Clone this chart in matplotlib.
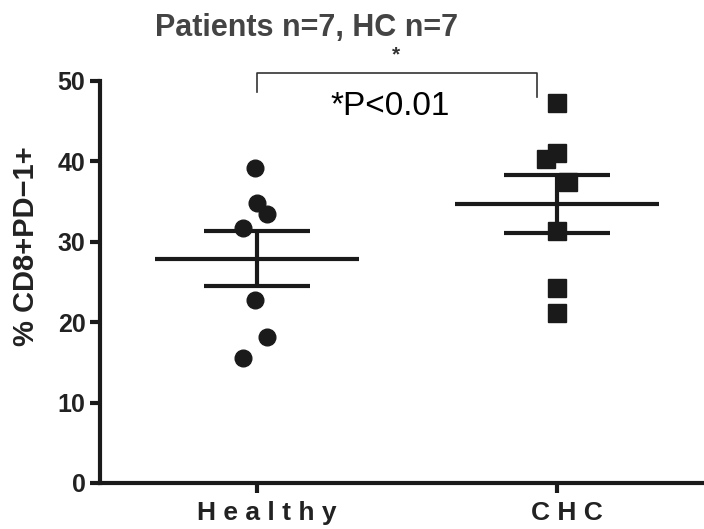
import numpy as np
import matplotlib
matplotlib.use('Agg')
import matplotlib.pyplot as plt
import matplotlib.transforms as mtransforms

plt.rcParams['font.family'] = ['Liberation Sans', 'DejaVu Sans']

# данные
groups = ['Healthy', 'CHC']
healthy = [39.2, 34.8, 33.4, 31.7, 22.7, 18.1, 15.5]
chc = [47.3, 41.1, 40.3, 37.4, 31.3, 24.3, 21.1]
healthy_jitter = [-0.005, 0.0, 0.035, -0.045, -0.005, 0.035, -0.045]
chc_jitter = [0.0, 0.0, -0.037, 0.037, 0.0, 0.0, 0.0]
tick_labels = ['H e a l t h y', 'C H C']
y_ticks = [0, 10, 20, 30, 40, 50]

dark = '#1a1a1a'

fig = plt.figure(figsize=(7.04, 5.29), dpi=100)
ax = fig.add_axes([0.142, 0.087, 0.858, 0.760])

positions = [1, 2]
series = [healthy, chc]
jitters = [healthy_jitter, chc_jitter]
markers = ['o', 's']
sizes = [12, 13]

for pos, vals, jit, mk, ms in zip(positions, series, jitters, markers, sizes):
    vals = np.array(vals)
    mean = vals.mean()
    sem = vals.std(ddof=1) / np.sqrt(len(vals))
    ax.plot(pos + np.array(jit), vals, linestyle='none', marker=mk,
            markersize=ms, color=dark, zorder=3)
    ax.hlines(mean, pos - 0.34, pos + 0.34, color=dark, lw=3, zorder=2)
    ax.hlines([mean - sem, mean + sem], pos - 0.177, pos + 0.177,
              color=dark, lw=3, zorder=2)
    ax.vlines(pos, mean - sem, mean + sem, color=dark, lw=3, zorder=2)

# скобка значимости
ax.plot([1, 1, 1.933, 1.933], [48.6, 51.0, 51.0, 48.0], color='#333333',
         lw=1.2, clip_on=False)
ax.text(1.463, 53.3, '*', ha='center', va='center', fontsize=15,
        fontweight='bold', color='#333333')
ax.text(1.443, 46.8, '*P<0.01', ha='center', va='center', fontsize=24,
        color='black')

ax.set_xlim(0.477, 2.49)
ax.set_ylim(0, 50)
ax.set_yticks(y_ticks)
ax.set_xticks(positions)
ax.set_xticklabels(tick_labels)

for side in ['top', 'right']:
    ax.spines[side].set_visible(False)
for side in ['left', 'bottom']:
    ax.spines[side].set_linewidth(3)
    ax.spines[side].set_color(dark)

ax.tick_params(axis='both', length=7, width=3, color=dark, labelsize=18,
               labelcolor='#222222')
ax.tick_params(axis='x', pad=6, labelsize=19)
for lab in ax.get_xticklabels() + ax.get_yticklabels():
    lab.set_fontweight('bold')
offset = mtransforms.ScaledTranslation(0.1, 0, fig.dpi_scale_trans)
for lab in ax.get_xticklabels():
    lab.set_transform(lab.get_transform() + offset)

ax.set_ylabel('% CD8+PD\u22121+', fontsize=21, fontweight='bold',
              color='#222222')
ax.yaxis.set_label_coords(-0.1, 0.59)

fig.text(0.436, 0.948, 'Patients n=7, HC n=7', ha='center', va='center',
         fontsize=22, fontweight='bold', color='#444444')

fig.savefig('out.png', dpi=100)
